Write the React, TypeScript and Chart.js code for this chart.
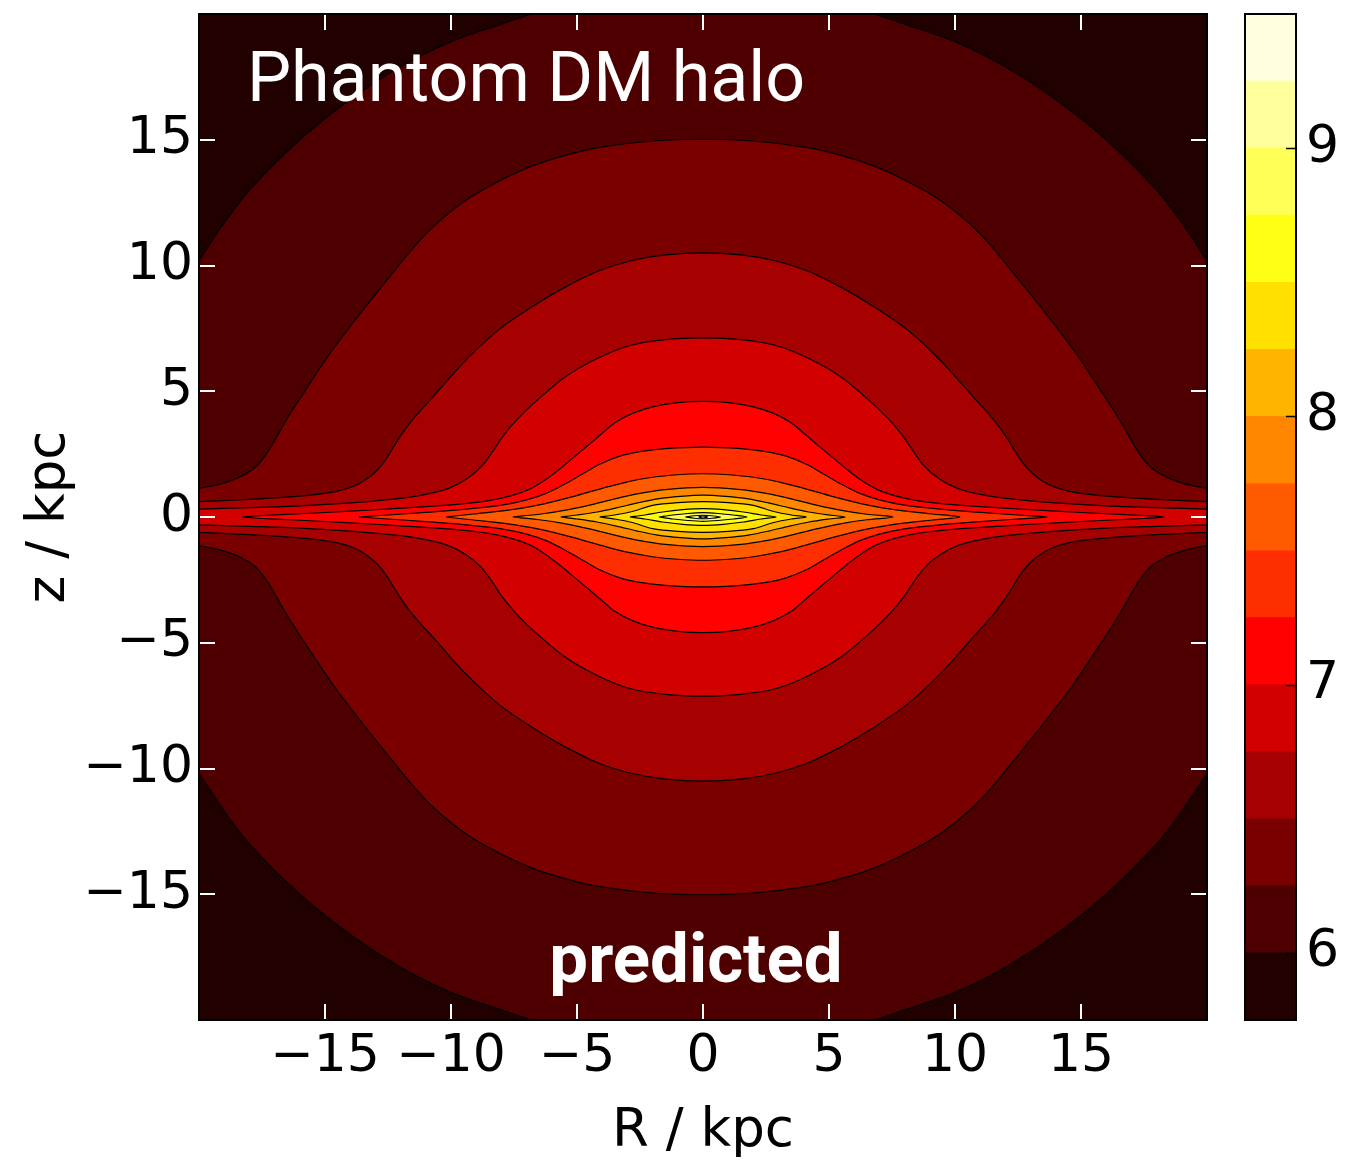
import React, { useEffect, useRef } from 'react';
import { Chart, registerables } from 'chart.js';
Chart.register(...registerables);

// ---- data ----
const levels = [5.75, 6.0, 6.25, 6.5, 6.75, 7.0, 7.25, 7.5, 7.75, 8.0, 8.25, 8.5, 8.75, 9.0, 9.25, 9.5];
const xTicks = [-15, -10, -5, 0, 5, 10, 15];
const yTicks = [-15, -10, -5, 0, 5, 10, 15];
const cbTicks = [6, 7, 8, 9];

// contour lines, upper-left quadrant (R <= 0, z >= 0), outer end -> R = 0; figure is mirror-symmetric
const contour600 = [[-20, 10.2], [-19, 11.7], [-18, 13.0], [-16, 15.0], [-14, 16.6], [-12, 17.9], [-10, 18.9], [-8, 19.6], [-6.8, 20.0]];
const contour625 = [[-20, 1.14], [-19.2, 1.3], [-18.4, 1.58], [-17.8, 1.95], [-17.4, 2.4], [-17.05, 2.95], [-16.6, 3.75], [-16.0, 4.7], [-14.7, 6.65], [-13.4, 8.35], [-12.4, 9.6], [-11.5, 10.7], [-10.7, 11.55], [-9.4, 12.6], [-8.1, 13.35], [-6.8, 13.95], [-5.4, 14.4], [-4.1, 14.7], [-2.0, 14.95], [0, 15.02]];
const contour650 = [[-20, 0.61], [-18.5, 0.68], [-17, 0.76], [-15.5, 0.88], [-14.5, 1.03], [-13.8, 1.25], [-13.3, 1.55], [-12.9, 1.9], [-12.55, 2.35], [-12.15, 3.0], [-11.7, 3.65], [-11.2, 4.25], [-10.7, 4.8], [-9.4, 6.25], [-8.1, 7.45], [-6.8, 8.35], [-5.45, 9.15], [-4.1, 9.8], [-2.8, 10.2], [-1.5, 10.42], [0, 10.5]];
const contour675 = [[-20, 0.31], [-18, 0.37], [-16, 0.44], [-14, 0.56], [-12, 0.74], [-11, 0.9], [-10.1, 1.14], [-9.4, 1.5], [-8.8, 2.0], [-8.35, 2.6], [-7.95, 3.2], [-7.45, 3.8], [-6.8, 4.45], [-5.5, 5.55], [-4.2, 6.3], [-2.9, 6.82], [-1.5, 7.05], [0, 7.12]];
const contour700 = [[-18.3, 0], [-17.5, 0.06], [-16, 0.13], [-14, 0.23], [-12, 0.35], [-10, 0.48], [-8.5, 0.65], [-7.6, 0.85], [-6.9, 1.1], [-6.3, 1.45], [-5.7, 1.9], [-5.1, 2.4], [-4.5, 2.9], [-4.0, 3.33], [-3.5, 3.75], [-2.8, 4.12], [-2.0, 4.38], [-1, 4.55], [0, 4.6]];
const contour725 = [[-13.65, 0], [-12.5, 0.08], [-11, 0.18], [-9.5, 0.3], [-8, 0.47], [-7, 0.68], [-6.2, 0.95], [-5.5, 1.3], [-4.8, 1.7], [-4.1, 2.1], [-3.3, 2.42], [-2.5, 2.6], [-1.5, 2.72], [0, 2.78]];
const contour750 = [[-10.2, 0], [-9.1, 0.12], [-7.8, 0.26], [-6.5, 0.48], [-5.2, 0.8], [-4, 1.14], [-3, 1.4], [-2, 1.58], [-1, 1.68], [0, 1.72]];
const contour775 = [[-7.55, 0], [-6.5, 0.11], [-5.5, 0.26], [-4.5, 0.47], [-3.5, 0.72], [-2.5, 0.94], [-1.5, 1.09], [0, 1.18]];
const contour800 = [[-5.65, 0], [-5, 0.08], [-4.2, 0.2], [-3.4, 0.37], [-2.6, 0.56], [-1.8, 0.72], [-0.9, 0.82], [0, 0.87]];
const contour825 = [[-4.1, 0], [-3.5, 0.08], [-2.8, 0.22], [-2, 0.46], [-1, 0.57], [0, 0.61]];
const contour850 = [[-2.9, 0], [-2.3, 0.08], [-1.6, 0.2], [-0.8, 0.29], [0, 0.33]];
const contour875 = [[-1.75, 0], [-1.2, 0.08], [-0.6, 0.14], [0, 0.17]];
const contour900 = [[-0.7, 0], [-0.35, 0.05], [0, 0.07]];
const contour925 = [[-0.18, 0], [0, 0.04]];

const contourQuadrants = [contour600, contour625, contour650, contour675, contour700, contour725, contour750, contour775, contour800, contour825, contour850, contour875, contour900, contour925];

const X_MIN = -20, X_MAX = 20, Y_MIN = -20, Y_MAX = 20;

// ---- styling helpers ----
function hot(x: number): string {
  const r = Math.min(1, 0.0416 + (1 - 0.0416) * x / 0.365079);
  const g = Math.max(0, Math.min(1, (x - 0.365079) / (0.746032 - 0.365079)));
  const b = Math.max(0, Math.min(1, (x - 0.746032) / (1 - 0.746032)));
  return `rgb(${Math.round(r * 255)},${Math.round(g * 255)},${Math.round(b * 255)})`;
}
const nBands = levels.length - 1;
const bandColor = (i: number) => hot((i + 0.5) / nBands);

const onEdge = (p: number[]) => Math.abs(p[0]) >= X_MAX || Math.abs(p[1]) >= Y_MAX;

function toLoop(q: number[][]) {
  const upper: number[][] = q.map((p) => [p[0], p[1]]);
  for (let i = q.length - 1; i >= 0; i--) {
    if (q[i][0] !== 0) upper.push([-q[i][0], q[i][1]]);
  }
  const lower: number[][] = [];
  for (let i = upper.length - 1; i >= 0; i--) {
    if (upper[i][1] !== 0) lower.push([upper[i][0], -upper[i][1]]);
  }
  const all = [...upper, ...lower, upper[0]];
  // points on the frame are doubled so the smoothing does not bend the curve where it meets the frame
  const out: { x: number; y: number }[] = [];
  all.forEach((p, i) => {
    out.push({ x: p[0], y: p[1] });
    if (onEdge(p) && i !== 0 && i !== all.length - 1) out.push({ x: p[0], y: p[1] });
  });
  return out;
}

const fmt = (v: any) => {
  const n = Number(v);
  return n < 0 ? '\u2212' + Math.abs(n) : String(n);
};

const TICK_FONT = { family: 'DejaVu Sans', size: 52 };
const TITLE_FONT = { family: 'DejaVu Sans', size: 53, lineHeight: 1 };

const mainPlugin = {
  id: 'mainDecor',
  beforeDatasetsDraw(chart: any) {
    const { ctx, chartArea: a } = chart;
    ctx.save();
    ctx.fillStyle = bandColor(0);
    ctx.fillRect(a.left, a.top, a.right - a.left, a.bottom - a.top);
    ctx.restore();
  },
  afterDatasetsDraw(chart: any) {
    const { ctx, chartArea: a, scales } = chart;
    const xs = scales.x, ys = scales.y;
    ctx.save();
    ctx.strokeStyle = '#ffffff';
    ctx.lineWidth = 2;
    const L = 16;
    ctx.beginPath();
    for (const v of xTicks) {
      const px = Math.round(xs.getPixelForValue(v));
      ctx.moveTo(px, a.bottom); ctx.lineTo(px, a.bottom - L);
      ctx.moveTo(px, a.top); ctx.lineTo(px, a.top + L);
    }
    for (const v of yTicks) {
      const py = Math.round(ys.getPixelForValue(v));
      ctx.moveTo(a.left, py); ctx.lineTo(a.left + L, py);
      ctx.moveTo(a.right, py); ctx.lineTo(a.right - L, py);
    }
    ctx.stroke();
    ctx.strokeStyle = '#000';
    ctx.lineWidth = 2;
    ctx.strokeRect(a.left, a.top, a.right - a.left, a.bottom - a.top);
    // annotations
    ctx.fillStyle = '#ffffff';
    ctx.textBaseline = 'alphabetic';
    ctx.textAlign = 'left';
    ctx.font = '70px Roboto';
    ctx.fillText('Phantom DM halo', xs.getPixelForValue(-18.1), ys.getPixelForValue(16.55));
    ctx.textAlign = 'center';
    ctx.font = 'bold 69px Roboto';
    ctx.fillText('predicted', xs.getPixelForValue(-0.28), ys.getPixelForValue(-18.5));
    ctx.restore();
  },
};

const cbPlugin = {
  id: 'cbDecor',
  afterDatasetsDraw(chart: any) {
    const { ctx, chartArea: a, scales } = chart;
    ctx.save();
    ctx.strokeStyle = '#000';
    ctx.lineWidth = 1.5;
    ctx.beginPath();
    for (const v of cbTicks) {
      const py = Math.round(scales.y.getPixelForValue(v)) + 0.5;
      ctx.moveTo(a.right, py); ctx.lineTo(a.right - 10, py);
    }
    ctx.stroke();
    ctx.lineWidth = 2;
    ctx.strokeRect(a.left, a.top, a.right - a.left, a.bottom - a.top);
    ctx.restore();
  },
};

const fixV = (w: number) => (s: any) => { s.width = w; s.paddingTop = 0; s.paddingBottom = 0; };
const fixH = (h: number) => (s: any) => { s.height = h; s.paddingLeft = 0; s.paddingRight = 0; };

export default function App() {
  const mainRef = useRef<HTMLCanvasElement>(null);
  const cbRef = useRef<HTMLCanvasElement>(null);

  useEffect(() => {
    const datasets = contourQuadrants.map((q, k) => ({
      data: toLoop(q),
      borderColor: '#000000',
      borderWidth: 1.2,
      backgroundColor: bandColor(k + 1),
      fill: 'shape',
      pointRadius: 0,
      tension: 0.3,
      spanGaps: true,
      order: 100 - k,
    }));

    const main = new Chart(mainRef.current as HTMLCanvasElement, {
      type: 'line',
      data: { datasets: datasets as any },
      options: {
        responsive: false,
        animation: false,
        devicePixelRatio: 1,
        events: [],
        layout: { padding: { left: 0, top: 14, right: 33, bottom: 0 } },
        plugins: { legend: { display: false }, tooltip: { enabled: false } },
        scales: {
          x: {
            type: 'linear',
            position: 'bottom',
            min: X_MIN,
            max: X_MAX,
            grid: { display: false, drawTicks: false },
            border: { display: false },
            afterBuildTicks: (s: any) => { s.ticks = xTicks.map((value) => ({ value })); },
            afterFit: fixH(142),
            ticks: { callback: fmt, font: TICK_FONT, color: '#000', padding: 6, maxRotation: 0, autoSkip: false },
            title: { display: true, text: 'R / kpc', color: '#000', font: TITLE_FONT, padding: { top: 0, bottom: 3 } },
          },
          y: {
            type: 'linear',
            position: 'left',
            min: Y_MIN,
            max: Y_MAX,
            grid: { display: false, drawTicks: false },
            border: { display: false },
            afterBuildTicks: (s: any) => { s.ticks = yTicks.map((value) => ({ value })); },
            afterFit: fixV(199),
            ticks: { callback: fmt, font: TICK_FONT, color: '#000', padding: 6, autoSkip: false },
            title: { display: true, text: 'z / kpc', color: '#000', font: TITLE_FONT, padding: { top: 24, bottom: 0 } },
          },
        },
      } as any,
      plugins: [mainPlugin],
    });

    const cbDatasets = levels.slice(0, -1).map((lo, i) => ({
      data: [[lo, levels[i + 1]]],
      backgroundColor: bandColor(i),
      borderWidth: 0,
      barPercentage: 1,
      categoryPercentage: 1,
      grouped: false,
    }));

    const cb = new Chart(cbRef.current as HTMLCanvasElement, {
      type: 'bar',
      data: { labels: [''], datasets: cbDatasets as any },
      options: {
        responsive: false,
        animation: false,
        devicePixelRatio: 1,
        events: [],
        layout: { padding: { left: 13, top: 14, right: 0, bottom: 142 } },
        plugins: { legend: { display: false }, tooltip: { enabled: false } },
        scales: {
          x: { display: false },
          y: {
            position: 'right',
            min: levels[0],
            max: levels[levels.length - 1],
            grid: { display: false, drawTicks: false },
            border: { display: false },
            afterBuildTicks: (s: any) => { s.ticks = cbTicks.map((value) => ({ value })); },
            afterFit: fixV(52),
            ticks: { font: TICK_FONT, color: '#000', padding: 10, autoSkip: false },
          },
        },
      } as any,
      plugins: [cbPlugin],
    });

    return () => { main.destroy(); cb.destroy(); };
  }, []);

  return (
    <div style={{ position: 'absolute', left: 0, top: 0, width: 1348, height: 1162, background: '#ffffff', overflow: 'hidden' }}>
      <canvas ref={mainRef} width={1240} height={1162} style={{ position: 'absolute', left: 0, top: 0, width: 1240, height: 1162 }} />
      <canvas ref={cbRef} width={116} height={1162} style={{ position: 'absolute', left: 1232, top: 0, width: 116, height: 1162 }} />
    </div>
  );
}
